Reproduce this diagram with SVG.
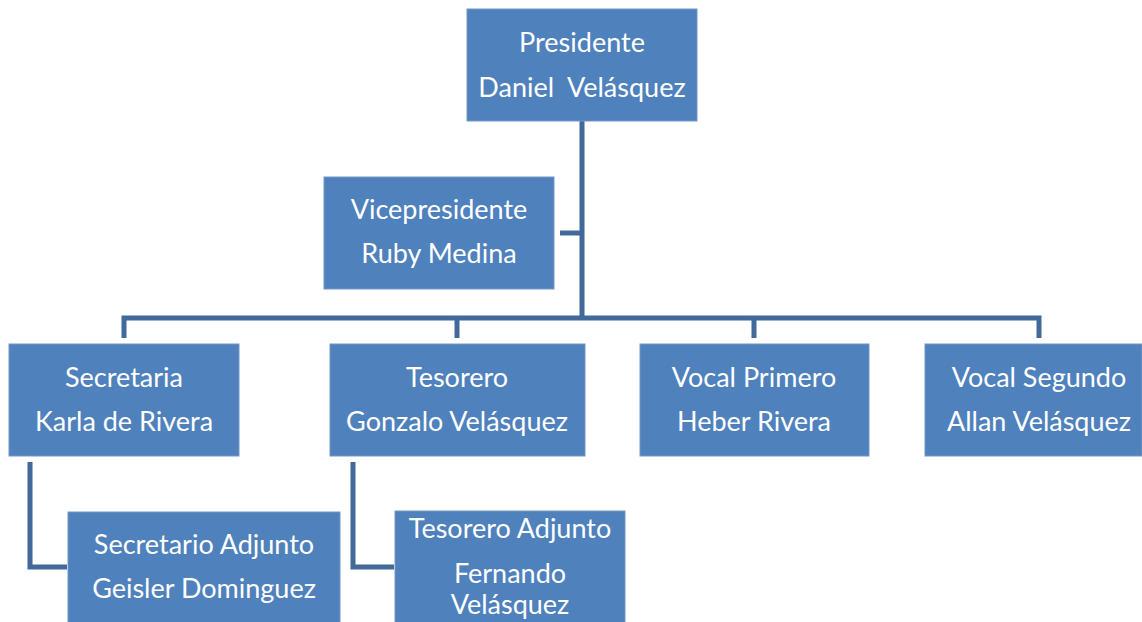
<svg xmlns="http://www.w3.org/2000/svg" width="1142" height="622" viewBox="0 0 1142 622">
<style>
.box{fill:#4F81BD;stroke:#7397C8;stroke-width:1}
.t{font-family:Lato,"Open Sans",sans-serif;font-size:27px;fill:#FFFFFF;text-anchor:middle;white-space:pre}
.c{fill:none;stroke:#41699B;stroke-width:5;stroke-linejoin:miter}
</style>
<rect width="1142" height="622" fill="#FFFFFF"/>
<g id="connectors">
<path class="c" d="M582,121 V318"/>
<path class="c" d="M560,233 H582"/>
<path class="c" d="M124,338 V318 H1039 V338"/>
<path class="c" d="M457,318 V338"/>
<path class="c" d="M754,318 V338"/>
<path class="c" d="M30,462 V567 H67"/>
<path class="c" d="M353,462 V567 H394"/>
</g>
<g id="presidente">
<rect class="box" x="467" y="9" width="230" height="112"/>
<text class="t" x="582" y="52">Presidente</text>
<text class="t" x="582" y="97" xml:space="preserve">Daniel  Velásquez</text>
</g>
<g id="vicepresidente">
<rect class="box" x="324" y="177" width="230" height="112"/>
<text class="t" x="439" y="219">Vicepresidente</text>
<text class="t" x="439" y="263">Ruby Medina</text>
</g>
<g id="secretaria">
<rect class="box" x="9" y="344" width="230" height="112"/>
<text class="t" x="124" y="387">Secretaria</text>
<text class="t" x="124" y="431">Karla de Rivera</text>
</g>
<g id="tesorero">
<rect class="box" x="330" y="344" width="255" height="112"/>
<text class="t" x="457" y="387">Tesorero</text>
<text class="t" x="457" y="431">Gonzalo Velásquez</text>
</g>
<g id="vocal-primero">
<rect class="box" x="640" y="344" width="229" height="112"/>
<text class="t" x="754" y="387">Vocal Primero</text>
<text class="t" x="754" y="431">Heber Rivera</text>
</g>
<g id="vocal-segundo">
<rect class="box" x="925" y="344" width="217" height="112"/>
<text class="t" x="1039" y="387">Vocal Segundo</text>
<text class="t" x="1039" y="431">Allan Velásquez</text>
</g>
<g id="secretario-adjunto">
<rect class="box" x="68" y="512" width="272" height="112"/>
<text class="t" x="204" y="554">Secretario Adjunto</text>
<text class="t" x="204" y="598">Geisler Dominguez</text>
</g>
<g id="tesorero-adjunto">
<rect class="box" x="395" y="511" width="230" height="115"/>
<text class="t" x="510" y="538">Tesorero Adjunto</text>
<text class="t" x="510" y="583">Fernando</text>
<text class="t" x="510" y="614">Velásquez</text>
</g>
</svg>
